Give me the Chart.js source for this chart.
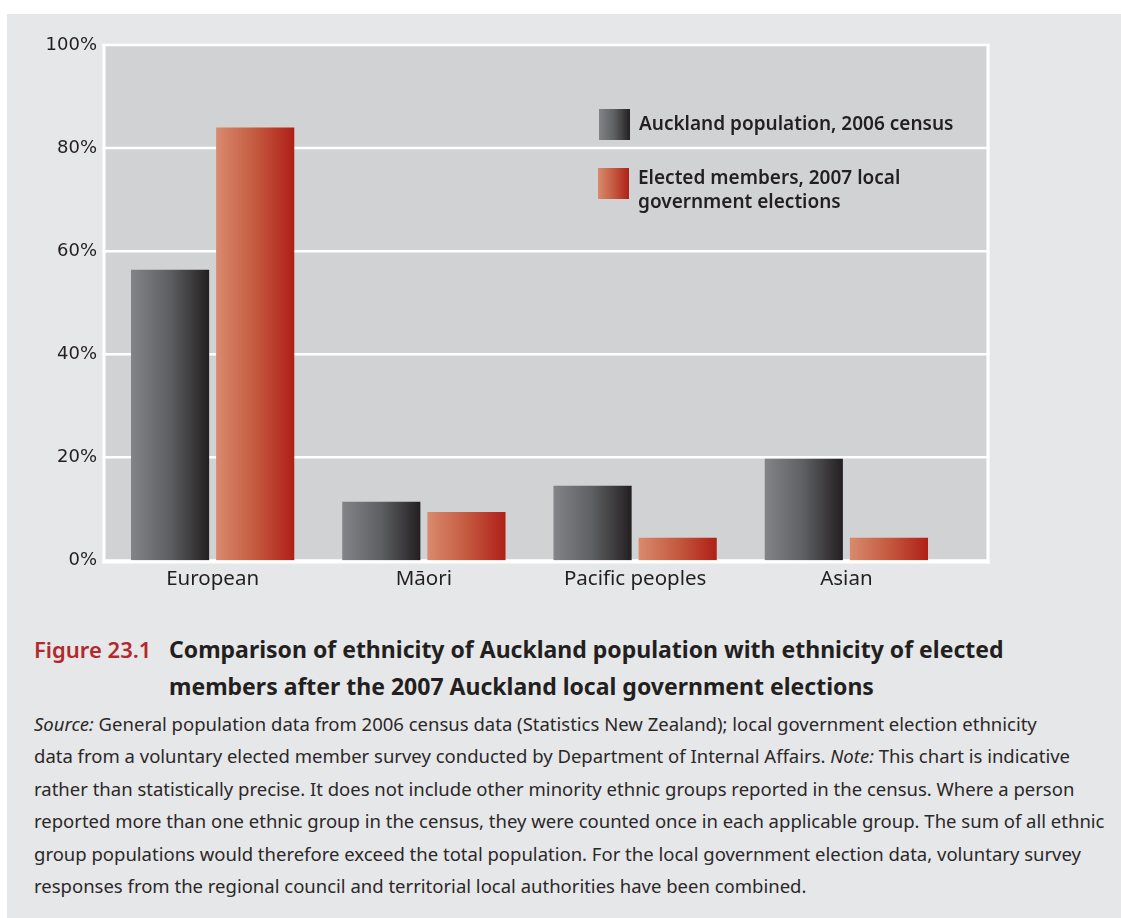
<!DOCTYPE html>
<html>
<head>
<meta charset="utf-8">
<script src="https://cdn.jsdelivr.net/npm/chart.js@4.4.1/dist/chart.umd.min.js"></script>
<style>
  body { margin: 0; width: 1121px; height: 918px; background: #fff; position: relative; overflow: hidden;
         font-family: "Noto Sans", sans-serif; color: #231f20; }
  #panel { position: absolute; left: 7px; top: 14px; right: 0; bottom: 0; background: #e6e7e8; }
  #chart { position: absolute; left: 0; top: 0; }
  .legend-item { position: absolute; font-size: 19px; font-weight: 600; line-height: 24px; white-space: nowrap; }
  .legend-item .sw { position: absolute; left: 0; width: 31px; height: 31px; }
  .legend-item .tx { position: absolute; left: 40px; }
  #li0 { left: 599px; top: 109px; }
  #li0 .tx { top: 2px; }
  #li1 { left: 598px; top: 168px; }
  #li1 .tx { top: -3px; }
  #caption { position: absolute; top: 631px; left: 0; font-weight: 700; line-height: 37px; white-space: nowrap; }
  #caption .fig { position: absolute; left: 34px; color: #b3282d; font-weight: 600; font-size: 22px; }
  #caption .ttl { position: absolute; left: 169px; font-size: 23px; }
  #source { position: absolute; left: 34px; top: 708px; font-size: 18.5px; line-height: 32.4px; white-space: nowrap; color: #2b2829; }
</style>
</head>
<body>
<div id="panel"></div>
<canvas id="chart" width="1121" height="608"></canvas>
<div id="legend"></div>
<div id="caption">
  <span class="fig">Figure 23.1</span>
  <span class="ttl">Comparison of ethnicity of Auckland population with ethnicity of elected<br>members after the 2007 Auckland local government elections</span>
</div>
<div id="source"><i>Source:</i> General population data from 2006 census data (Statistics New Zealand); local government election ethnicity<br>data from a voluntary elected member survey conducted by Department of Internal Affairs. <i>Note:</i> This chart is indicative<br>rather than statistically precise. It does not include other minority ethnic groups reported in the census. Where a person<br>reported more than one ethnic group in the census, they were counted once in each applicable group. The sum of all ethnic<br>group populations would therefore exceed the total population. For the local government election data, voluntary survey<br>responses from the regional council and territorial local authorities have been combined.</div>

<script>
const categories = ['European', 'Māori', 'Pacific peoples', 'Asian'];
const seriesNames = ['Auckland population, 2006 census', 'Elected members, 2007 local\ngovernment elections'];
const populationShare = [56.4, 11.4, 14.5, 19.7];
const electedShare = [84.0, 9.4, 4.4, 4.4];
const yTickValues = [0, 20, 40, 60, 80, 100];

// left-to-right gradient stops for each series
const greyStops = ['#838487', '#5d5f62', '#231f20'];
const redStops = ['#d98a6d', '#c45a40', '#b01f17'];

Chart.defaults.color = '#231f20';

// grey plot box with white grid, wider than the category axis on the right
const plotBox = {
    id: 'plotBox',
    beforeDatasetsDraw(chart) {
        const { ctx, chartArea: a, scales: { y } } = chart;
        const left = a.left - 3, right = a.right + 36;
        ctx.save();
        ctx.fillStyle = '#d1d2d4';
        ctx.fillRect(left, a.top, right - left, a.bottom - a.top);
        ctx.strokeStyle = '#ffffff';
        ctx.lineWidth = 2.5;
        yTickValues.forEach(v => {
            const py = y.getPixelForValue(v);
            ctx.beginPath();
            ctx.moveTo(left - 1.5, py);
            ctx.lineTo(right + 1.5, py);
            ctx.stroke();
        });
        ctx.lineWidth = 3;
        [left, right].forEach(px => {
            ctx.beginPath();
            ctx.moveTo(px, a.top - 1);
            ctx.lineTo(px, a.bottom + 3);
            ctx.stroke();
        });
        ctx.restore();
    },
    afterDatasetsDraw(chart) {
        const { ctx, chartArea: a } = chart;
        ctx.save();
        ctx.strokeStyle = '#ffffff';
        ctx.lineWidth = 3;
        ctx.beginPath();
        ctx.moveTo(a.left - 4.5, a.bottom + 1.5);
        ctx.lineTo(a.right + 37.5, a.bottom + 1.5);
        ctx.stroke();
        ctx.restore();
    }
};

// each bar gets its own horizontal gradient
const barGradient = {
    id: 'barGradient',
    beforeDatasetsDraw(chart) {
        const ctx = chart.ctx;
        chart.data.datasets.forEach((ds, i) => {
            chart.getDatasetMeta(i).data.forEach(el => {
                const g = ctx.createLinearGradient(el.x - el.width / 2, 0, el.x + el.width / 2, 0);
                ds.stops.forEach((c, k) => g.addColorStop(k / (ds.stops.length - 1), c));
                el.options = Object.assign({}, el.options, { backgroundColor: g });
            });
        });
    }
};

const chart = new Chart(document.getElementById('chart'), {
    type: 'bar',
    data: {
        labels: categories,
        datasets: [
            { label: seriesNames[0], data: populationShare, stops: greyStops, backgroundColor: greyStops[1],
              categoryPercentage: 0.806, barPercentage: 0.918 },
            { label: seriesNames[1], data: electedShare, stops: redStops, backgroundColor: redStops[1],
              categoryPercentage: 0.806, barPercentage: 0.918 }
        ]
    },
    options: {
        responsive: false,
        animation: false,
        devicePixelRatio: 1,
        layout: { padding: { left: 0, right: 169, top: 45, bottom: 10 } },
        plugins: { legend: { display: false }, tooltip: { enabled: false } },
        scales: {
            x: {
                grid: { display: false, drawTicks: false },
                border: { display: false },
                ticks: { padding: 6.5, font: { family: 'Noto Sans', size: 20.5 }, color: '#231f20' }
            },
            y: {
                min: 0,
                max: 100,
                afterFit: s => { s.width = 107; },
                grid: { display: false, drawTicks: false },
                border: { display: false },
                afterBuildTicks: s => { s.ticks = yTickValues.map(v => ({ value: v })); },
                ticks: {
                    padding: 10,
                    font: { family: 'DejaVu Sans', size: 18 },
                    color: '#231f20',
                    callback: v => v + '%'
                }
            }
        }
    },
    plugins: [plotBox, barGradient]
});

// html legend built from the datasets
const legend = document.getElementById('legend');
chart.data.datasets.forEach((ds, i) => {
    const item = document.createElement('div');
    item.className = 'legend-item';
    item.id = 'li' + i;
    const sw = document.createElement('div');
    sw.className = 'sw';
    sw.style.background = 'linear-gradient(to right, ' + ds.stops.join(', ') + ')';
    const tx = document.createElement('div');
    tx.className = 'tx';
    tx.innerHTML = ds.label.split('\n').join('<br>');
    item.appendChild(sw);
    item.appendChild(tx);
    legend.appendChild(item);
});
</script>
</body>
</html>
